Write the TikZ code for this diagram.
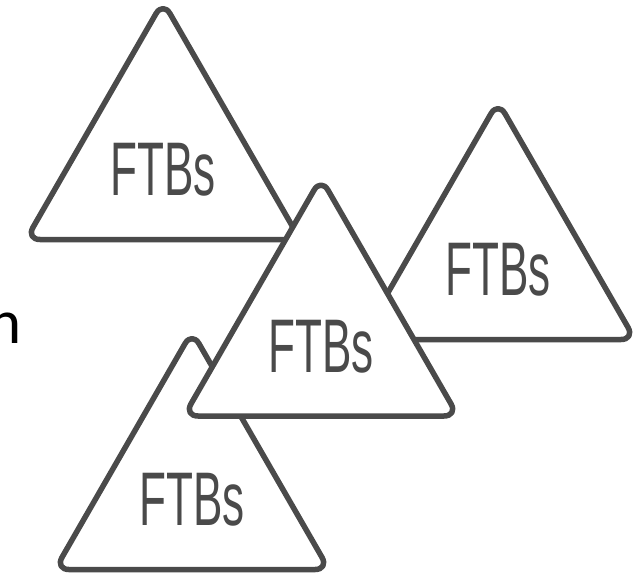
\documentclass[tikz,border=0pt]{standalone}
\usepackage{fontspec}
\newfontfamily\ftbfont[FakeStretch=0.58]{Liberation Sans}
\newfontfamily\calfont{Carlito}
\definecolor{tri}{HTML}{4A4A4A}
\tikzset{
  tribox/.style={draw=tri, fill=white, line width=5.5pt, rounded corners=14pt, line join=round},
  ftb/.style={font=\ftbfont\fontsize{76}{76}\selectfont, text=tri, inner sep=0pt, anchor=base},
  sidetext/.style={font=\calfont\fontsize{63}{63}\selectfont, text=black, inner sep=0pt, anchor=base east}
}
\newcommand\ftbtri[3]{%
  \draw[tribox] (#1-137,#2) -- (#1,#2-238) -- (#1+137,#2) -- cycle;
  \node[ftb] (#3) at (#1,#2-44) {FTBs};
}
\begin{document}
\begin{tikzpicture}[x=1pt,y=-1pt]
\useasboundingbox (0,0) rectangle (644,576);
\node[sidetext] (n) at (22,343) {n};
\ftbtri{163}{239.5}{ftbA}
\ftbtri{498}{339.5}{ftbR}
\ftbtri{192}{569.5}{ftbB}
\ftbtri{321}{416}{ftbC}
\end{tikzpicture}
\end{document}
